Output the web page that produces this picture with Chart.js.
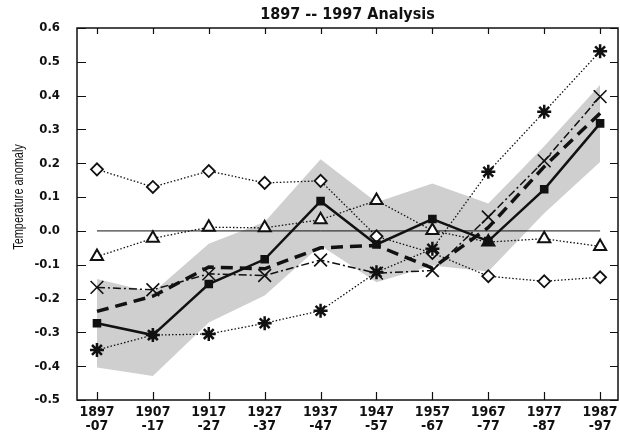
<!DOCTYPE html>
<html>
<head>
<meta charset="utf-8">
<script src="https://cdn.jsdelivr.net/npm/chart.js@4.4.1/dist/chart.umd.min.js"></script>
<style>
  body { margin: 0; background: #fff; }
</style>
</head>
<body>
<canvas id="grafica" width="620" height="435"></canvas>
<script>
const periodos = ['1897', '1907', '1917', '1927', '1937', '1947', '1957', '1967', '1977', '1987'];
const periodosFin = ['-07', '-17', '-27', '-37', '-47', '-57', '-67', '-77', '-87', '-97'];

const rombos = [0.182, 0.130, 0.177, 0.142, 0.148, -0.016, -0.065, -0.134, -0.149, -0.137];
const triangulos = [-0.076, -0.022, 0.011, 0.009, 0.033, 0.090, 0.001, -0.033, -0.023, -0.046];
const cuadrados = [-0.273, -0.308, -0.157, -0.084, 0.088, -0.040, 0.035, -0.030, 0.123, 0.318];
const discontinua = [-0.238, -0.193, -0.107, -0.112, -0.050, -0.043, -0.110, 0.010, 0.190, 0.348];
const cruces = [-0.167, -0.174, -0.127, -0.132, -0.086, -0.125, -0.117, 0.041, 0.207, 0.397];
const asteriscos = [-0.352, -0.308, -0.305, -0.273, -0.236, -0.122, -0.053, 0.175, 0.352, 0.531];
const bandaSup = [-0.142, -0.182, -0.038, 0.026, 0.212, 0.085, 0.140, 0.081, 0.250, 0.432];
const bandaInf = [-0.404, -0.429, -0.271, -0.191, -0.043, -0.152, -0.102, -0.120, 0.052, 0.204];
const cero = [0, 0, 0, 0, 0, 0, 0, 0, 0, 0];

const yTicks = [-0.5, -0.4, -0.3, -0.2, -0.1, 0.0, 0.1, 0.2, 0.3, 0.4, 0.5, 0.6];

const fuente = "'Liberation Sans Narrow', 'DejaVu Sans Condensed', 'Arial Narrow', sans-serif";
const negro = '#111';

const puntos = arr => arr.map((v, i) => ({ x: i, y: v }));

// marco y marcas hacia dentro
const marcoPlugin = {
  id: 'marco',
  afterDraw(chart) {
    const { ctx, chartArea: { left, right, top, bottom }, scales: { x, y } } = chart;
    ctx.save();
    ctx.strokeStyle = negro;
    ctx.lineWidth = 1.5;
    ctx.strokeRect(left, top, right - left, bottom - top);
    ctx.lineWidth = 1.2;
    ctx.beginPath();
    y.ticks.forEach(t => {
      const py = Math.round(y.getPixelForValue(t.value)) + 0.5;
      ctx.moveTo(left, py); ctx.lineTo(left + 9, py);
      ctx.moveTo(right - 8, py); ctx.lineTo(right, py);
    });
    x.ticks.forEach(t => {
      const px = Math.round(x.getPixelForValue(t.value)) + 0.5;
      ctx.moveTo(px, bottom); ctx.lineTo(px, bottom - 8);
      ctx.moveTo(px, top); ctx.lineTo(px, top + 6);
    });
    ctx.stroke();
    // titulo del eje y (estrechado a mano)
    ctx.translate(19, 197);
    ctx.rotate(-Math.PI / 2);
    ctx.scale(0.78, 1);
    ctx.fillStyle = negro;
    ctx.font = "14px 'Liberation Sans', Arial, sans-serif";
    ctx.textAlign = 'center';
    ctx.textBaseline = 'middle';
    ctx.fillText('Temperature anomaly', 0, 0);
    ctx.restore();
  }
};

const ctx = document.getElementById('grafica').getContext('2d');

new Chart(ctx, {
  type: 'line',
  data: {
    datasets: [
      {
        label: 'banda sup',
        data: puntos(bandaSup),
        borderWidth: 0,
        pointRadius: 0,
        backgroundColor: '#cfcfcf',
        fill: '+1',
        order: 20
      },
      {
        label: 'banda inf',
        data: puntos(bandaInf),
        borderWidth: 0,
        pointRadius: 0,
        fill: false,
        order: 19
      },
      {
        label: 'cero',
        data: puntos(cero),
        borderColor: negro,
        borderWidth: 1,
        pointRadius: 0,
        order: 18
      },
      {
        label: 'rombos',
        data: puntos(rombos),
        borderColor: negro,
        borderWidth: 1.3,
        borderDash: [1.5, 2],
        pointStyle: 'rectRot',
        pointRadius: 6,
        pointBorderWidth: 1.8,
        pointBackgroundColor: '#fff',
        pointBorderColor: negro,
        order: 6
      },
      {
        label: 'triangulos',
        data: puntos(triangulos),
        borderColor: negro,
        borderWidth: 1.3,
        borderDash: [1.5, 2],
        pointStyle: 'triangle',
        pointRadius: 7,
        pointBorderWidth: 2,
        pointBackgroundColor: '#fff',
        pointBorderColor: negro,
        order: 5
      },
      {
        label: 'asteriscos',
        data: puntos(asteriscos),
        borderColor: negro,
        borderWidth: 1.3,
        borderDash: [1.5, 2],
        pointStyle: 'star',
        pointRadius: 7,
        pointBorderWidth: 2.5,
        pointBorderColor: negro,
        order: 4
      },
      {
        label: 'cruces',
        data: puntos(cruces),
        borderColor: negro,
        borderWidth: 1.5,
        borderDash: [8, 3, 2, 3],
        pointStyle: 'crossRot',
        pointRadius: 9,
        pointBorderWidth: 1.6,
        pointBorderColor: negro,
        order: 3
      },
      {
        label: 'discontinua',
        data: puntos(discontinua),
        borderColor: negro,
        borderWidth: 3.5,
        borderDash: [12, 7],
        pointRadius: 0,
        order: 2
      },
      {
        label: 'cuadrados',
        data: puntos(cuadrados),
        borderColor: negro,
        borderWidth: 2.5,
        pointStyle: 'rect',
        pointRadius: 5,
        pointBorderWidth: 1.5,
        pointBackgroundColor: negro,
        pointBorderColor: negro,
        order: 1
      }
    ]
  },
  options: {
    responsive: false,
    animation: false,
    layout: { autoPadding: false, padding: { left: 0, right: 2, top: 0, bottom: 0 } },
    plugins: {
      legend: { display: false },
      tooltip: { enabled: false },
      title: {
        display: true,
        text: '1897 -- 1997 Analysis',
        fullSize: false,
        color: negro,
        font: { family: fuente, size: 16, weight: 'bold', lineHeight: 1.2 },
        padding: { top: 5, bottom: 3.8 }
      }
    },
    scales: {
      x: {
        type: 'linear',
        min: -0.357,
        max: 9.32,
        grid: { display: false, drawTicks: false },
        border: { display: false },
        afterFit: s => { s.height = 35; s.paddingLeft = 0; s.paddingRight = 0; },
        afterBuildTicks: s => { s.ticks = periodos.map((p, i) => ({ value: i })); },
        ticks: {
          color: negro,
          padding: 5,
          maxRotation: 0,
          autoSkip: false,
          font: { family: fuente, size: 14, weight: 'bold', lineHeight: 1.0 },
          callback: v => [periodos[v], periodosFin[v]]
        }
      },
      y: {
        min: -0.5,
        max: 0.6,
        grid: { display: false, drawTicks: false },
        border: { display: false },
        afterFit: s => { s.width = 77; },
        afterBuildTicks: s => { s.ticks = yTicks.map(v => ({ value: v })); },
        ticks: {
          color: negro,
          padding: 17,
          font: { family: fuente, size: 13, weight: 'bold' },
          callback: v => v.toFixed(1)
        }
      }
    }
  },
  plugins: [marcoPlugin]
});
</script>
</body>
</html>
